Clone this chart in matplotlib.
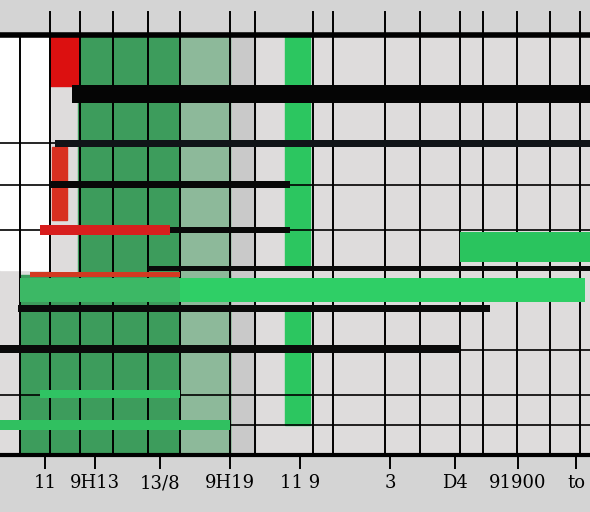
import numpy as np
import matplotlib.pyplot as plt

# gantt-ish rows: start, end, row centre (x / y in tenths of the frame)
bar_start = [7.2, 5.5, 5.0, 4.0, 17.0, 46.0, 14.8, 3.0, 2.0, 18.0, 1.8, 0.0, 4.0, 0.0]
bar_end   = [59.0, 59.0, 29.0, 17.0, 29.0, 59.0, 59.0, 18.0, 58.5, 58.5, 49.0, 46.0, 18.0, 23.0]
bar_row   = [9.4, 14.3, 18.4, 23.0, 23.0, 24.7, 26.8, 27.4, 29.0, 29.0, 30.8, 34.9, 39.4, 42.5]

tick_pos = [4.5, 9.5, 16.0, 23.0, 30.0, 39.0, 45.5, 51.8, 57.6]
tick_labels = ["11", "9H13", "13/8", "9H19", "11 9", "3", "D4", "91900", "to"]
grid_x = [2.0, 5.0, 8.0, 11.3, 14.8, 18.0, 23.0, 25.5, 31.3, 33.3, 38.5, 42.0, 46.0, 48.3, 51.7, 55.0, 58.0]
grid_y = [14.3, 18.5, 23.0, 35.0, 39.5, 42.5]

bar_h = [1.8, 0.7, 0.7, 1.0, 0.6, 3.0, 0.5, 0.5, 2.4, 2.4, 0.7, 0.8, 0.8, 1.0]
bar_c = ["#050505", "#101418", "#080808", "#d81e1e", "#080808", "#2ac45e", "#0a0a0a",
         "#d23a22", "#3cb865", "#2fcf66", "#0a0a0a", "#0a0a0a", "#2fc463", "#30c060"]

fig = plt.figure(figsize=(5.9, 5.12), dpi=100)
fig.patch.set_facecolor("#d4d4d4")
ax = fig.add_axes([0, 57 / 512, 1, 420 / 512])
ax.set_facecolor("#dedcdc")
ax.set_xlim(0, 59)
ax.set_ylim(45.5, 3.5)

# background blocks
ax.axvspan(0, 5.0, ymin=(45.5 - 27) / 42, ymax=1, color="white", zorder=0)
ax.axvspan(7.8, 23.0, color="#3d9c5c", zorder=0.5)
ax.axvspan(18.0, 23.0, color="#8db99a", zorder=0.6)
ax.axvspan(23.0, 25.5, color="#c9c9c9", zorder=0.4)
ax.add_patch(plt.Rectangle((28.5, 3.6), 2.5, 23.0, color="#2cc660", zorder=1))
ax.add_patch(plt.Rectangle((28.5, 31.0), 2.5, 11.5, color="#2cc660", zorder=1))
ax.add_patch(plt.Rectangle((5.0, 3.6), 2.8, 5.0, color="#dc1010", zorder=1))
ax.add_patch(plt.Rectangle((5.2, 14.7), 1.5, 7.3, color="#d83020", zorder=1))
ax.add_patch(plt.Rectangle((2.0, 27.5), 21.0, 18, color="#3d9c5c", zorder=0.5))

ax.vlines(grid_x, 3.5, 45.5, color="black", lw=1.4, zorder=2)
ax.hlines(grid_y, 0, 59, color="black", lw=1.2, zorder=2)

for s, e, r, h, c in zip(bar_start, bar_end, bar_row, bar_h, bar_c):
    ax.barh(r, e - s, left=s, height=h, color=c, zorder=3)

# little ticks over the top edge
for x in grid_x[1:]:
    ax.plot([x, x], [3.5, 1.2], color="black", lw=1.4, clip_on=False, zorder=4)

for side in ["left", "right"]:
    ax.spines[side].set_visible(False)
ax.spines["top"].set_linewidth(4)
ax.spines["bottom"].set_linewidth(3)
ax.set_yticks([])
ax.set_xticks(tick_pos)
ax.set_xticklabels(tick_labels, fontsize=13, family="DejaVu Serif")
ax.tick_params(axis="x", length=10, width=1.4, pad=4)

fig.savefig("out.png", dpi=100, facecolor=fig.get_facecolor())
